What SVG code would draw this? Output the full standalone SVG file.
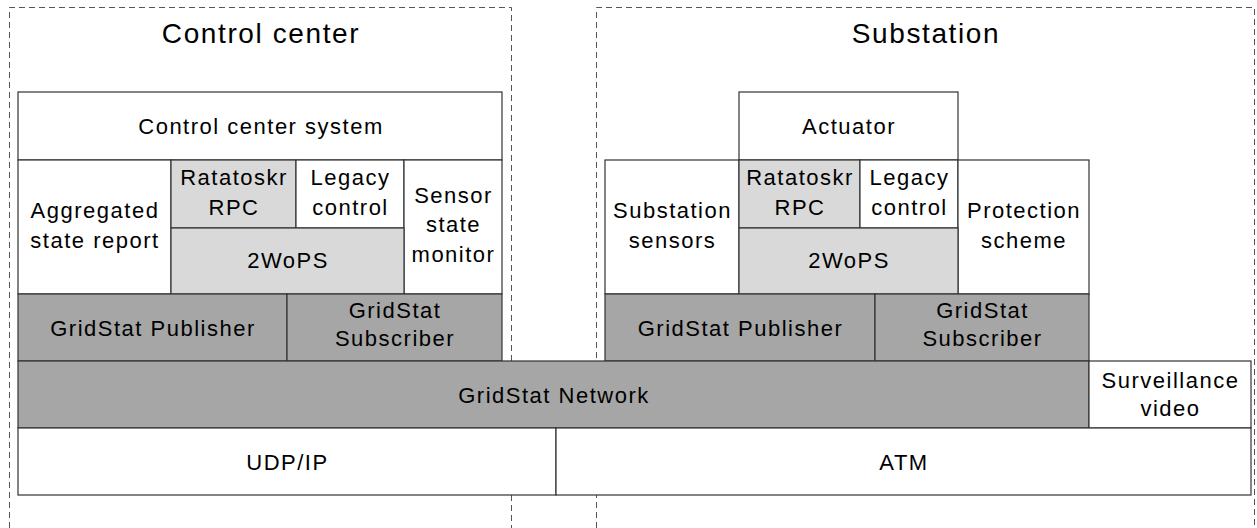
<svg xmlns="http://www.w3.org/2000/svg" width="1257" height="528" viewBox="0 0 1257 528">
<style>
.dash{fill:none;stroke:#555;stroke-width:1;stroke-dasharray:6,4}
.w{fill:#fff;stroke:#333;stroke-width:1.2}
.l{fill:#d9d9d9;stroke:#333;stroke-width:1.2}
.d{fill:#a6a6a6;stroke:#333;stroke-width:1.2}
text{font-family:"Liberation Sans",Arial,sans-serif;font-size:22px;letter-spacing:1.5px;fill:#000;text-anchor:middle}
.t{font-size:28px;letter-spacing:1.6px}
</style>
<rect width="1257" height="528" fill="#fff"/>
<g id="control-center">
<path class="dash" d="M9.5 528V7.5H511.5V528"/>
<text class="t" x="261" y="43">Control center</text>
</g>
<g id="substation">
<path class="dash" d="M596.5 528V7.5H1254.5V528"/>
<text class="t" x="926" y="43">Substation</text>
</g>
<g id="cc-system"><rect class="w" x="18" y="92" width="484" height="68"/><text x="261" y="134">Control center system</text></g>
<g id="cc-aggregated"><rect class="w" x="18" y="160" width="153" height="134"/><text x="95" y="218">Aggregated</text><text x="95" y="248">state report</text></g>
<g id="cc-ratatoskr"><rect class="l" x="171" y="160" width="125" height="68"/><text x="234" y="185">Ratatoskr</text><text x="234" y="215">RPC</text></g>
<g id="cc-legacy"><rect class="w" x="296" y="160" width="108" height="68"/><text x="350.5" y="185">Legacy</text><text x="350.5" y="215">control</text></g>
<g id="cc-sensor"><rect class="w" x="404" y="160" width="98" height="134"/><text x="453.5" y="203">Sensor</text><text x="453.5" y="232">state</text><text x="453.5" y="262">monitor</text></g>
<g id="cc-2wops"><rect class="l" x="171" y="228" width="233" height="66"/><text x="288" y="268">2WoPS</text></g>
<g id="cc-publisher"><rect class="d" x="18" y="294" width="269" height="67"/><text x="153" y="336">GridStat Publisher</text></g>
<g id="cc-subscriber"><rect class="d" x="287" y="294" width="215" height="67"/><text x="395" y="318">GridStat</text><text x="395" y="346">Subscriber</text></g>
<g id="ss-actuator"><rect class="w" x="739" y="92" width="219" height="68"/><text x="849" y="134">Actuator</text></g>
<g id="ss-sensors"><rect class="w" x="605" y="160" width="134" height="134"/><text x="672.5" y="218">Substation</text><text x="672.5" y="248">sensors</text></g>
<g id="ss-ratatoskr"><rect class="l" x="739" y="160" width="121" height="68"/><text x="800" y="185">Ratatoskr</text><text x="800" y="215">RPC</text></g>
<g id="ss-legacy"><rect class="w" x="860" y="160" width="98" height="68"/><text x="909.5" y="185">Legacy</text><text x="909.5" y="215">control</text></g>
<g id="ss-protection"><rect class="w" x="958" y="160" width="131" height="134"/><text x="1024" y="218">Protection</text><text x="1024" y="248">scheme</text></g>
<g id="ss-2wops"><rect class="l" x="739" y="228" width="219" height="66"/><text x="849" y="268">2WoPS</text></g>
<g id="ss-publisher"><rect class="d" x="605" y="294" width="270" height="67"/><text x="740.5" y="336">GridStat Publisher</text></g>
<g id="ss-subscriber"><rect class="d" x="875" y="294" width="214" height="67"/><text x="982.5" y="318">GridStat</text><text x="982.5" y="346">Subscriber</text></g>
<g id="gridstat-network"><rect class="d" x="18" y="361" width="1071" height="67"/><text x="554" y="403">GridStat Network</text></g>
<g id="surveillance"><rect class="w" x="1089" y="361" width="162" height="67"/><text x="1170.5" y="388">Surveillance</text><text x="1170.5" y="416">video</text></g>
<g id="udpip"><rect class="w" x="18" y="428" width="538" height="67"/><text x="287.5" y="470">UDP/IP</text></g>
<g id="atm"><rect class="w" x="556" y="428" width="695" height="67"/><text x="904" y="470">ATM</text></g>
<g id="connectors"></g>
</svg>
